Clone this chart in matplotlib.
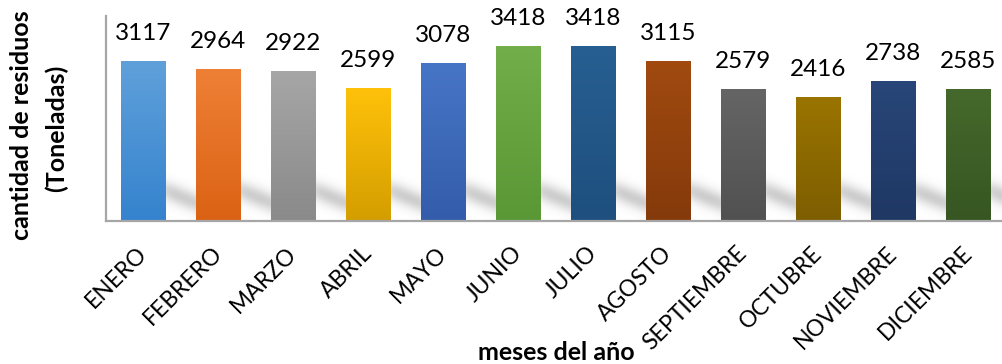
import numpy as np
import matplotlib
matplotlib.use("Agg")
import matplotlib.pyplot as plt
from matplotlib.colors import to_rgb

months = ["ENERO", "FEBRERO", "MARZO", "ABRIL", "MAYO", "JUNIO", "JULIO",
          "AGOSTO", "SEPTIEMBRE", "OCTUBRE", "NOVIEMBRE", "DICIEMBRE"]
tonnes = [3117, 2964, 2922, 2599, 3078, 3418, 3418, 3115, 2579, 2416, 2738, 2585]
top_colors = ["#5FA0DA", "#EE8035", "#A6A6A6", "#FFC10A", "#4775C6", "#72AE49",
              "#275F92", "#A04A10", "#656565", "#9A7400", "#284679", "#45692C"]
bottom_colors = ["#3583CE", "#DB6215", "#8A8A8A", "#D49E00", "#335DAA", "#5A9835",
                 "#1E4F7E", "#853A0B", "#515151", "#7D5E00", "#1F3864", "#375622"]

plt.rcParams["font.family"] = ["Lato", "DejaVu Sans"]

W, H = 1003, 364
fig = plt.figure(figsize=(W / 100, H / 100), dpi=100)
ax_l, ax_r, ax_b, ax_t = 106, 1003, 221, 16
ax = fig.add_axes([ax_l / W, 1 - ax_b / H, (ax_r - ax_l) / W, (ax_b - ax_t) / H])

x = np.arange(len(months))
bar_w = 0.59
ymax = 4000
xmin = -0.5
xmax = xmin + (ax_r - ax_l) / 75.0
ax.set_xlim(xmin, xmax)
ax.set_ylim(0, ymax)

# soft cast shadow behind the bars, visible in the gaps
px_x = (ax_r - ax_l) / (xmax - xmin)
px_y = (ax_b - ax_t) / ymax
gx = np.linspace(xmin, xmax, 900)
gy = np.linspace(0, ymax, 205)
GX, GY = np.meshgrid(gx, gy)
alpha = np.zeros_like(GX)
for i in x:
    u = (GX - (i + bar_w / 2)) * px_x
    v = GY * px_y
    vc = 30 - 0.4 * u
    band = np.exp(-((v - vc) / 10.0) ** 2)
    fade = 1 / (1 + np.exp(-(u + 5) / 4)) * 1 / (1 + np.exp((u - 45) / 6))
    alpha = np.maximum(alpha, band * fade)
shadow = np.zeros(GX.shape + (4,))
shadow[..., :3] = 0.45
shadow[..., 3] = 0.36 * alpha
ax.imshow(shadow, extent=[xmin, xmax, 0, ymax], origin="lower",
          aspect="auto", zorder=1, interpolation="bilinear")

bars = ax.bar(x, tonnes, width=bar_w, color=top_colors, zorder=2, linewidth=0)
for b, c_top, c_bot in zip(bars, top_colors, bottom_colors):
    t = np.linspace(0, 1, 64)[:, None]
    grad = (1 - t) * np.array(to_rgb(c_bot)) + t * np.array(to_rgb(c_top))
    img = ax.imshow(grad[:, None, :], extent=[b.get_x(), b.get_x() + b.get_width(),
                                               0, b.get_height()],
                    origin="lower", aspect="auto", zorder=3, interpolation="bilinear")
    img.set_clip_path(b)

for xi, val in zip(x, tonnes):
    ax.annotate(f"{val}", (xi, val), xytext=(0, 17), textcoords="offset pixels",
                ha="center", va="bottom", fontsize=17.5, color="#000000", zorder=4)

for s in ["top", "right"]:
    ax.spines[s].set_visible(False)
for s in ["left", "bottom"]:
    ax.spines[s].set_color("#A6A6A6")
    ax.spines[s].set_linewidth(1.6)
    ax.spines[s].set_zorder(5)

ax.set_yticks([])
ax.set_xticks(x)
ax.set_xticklabels(months, rotation=45, ha="right", va="center",
                   rotation_mode="anchor", fontsize=16.5)
ax.tick_params(axis="x", length=0, pad=21)

fig.text(22 / W, 1 - 125 / H, "cantidad de residuos", rotation=90, ha="center",
         va="center", fontsize=18, fontweight="bold")
fig.text(56 / W, 1 - 128 / H, "(Toneladas)", rotation=90, ha="center",
         va="center", fontsize=18, fontweight="bold")
fig.text(556 / W, 1 - 352 / H, "meses del año", ha="center", va="center",
         fontsize=18, fontweight="bold")

fig.savefig("out.png", dpi=100)
